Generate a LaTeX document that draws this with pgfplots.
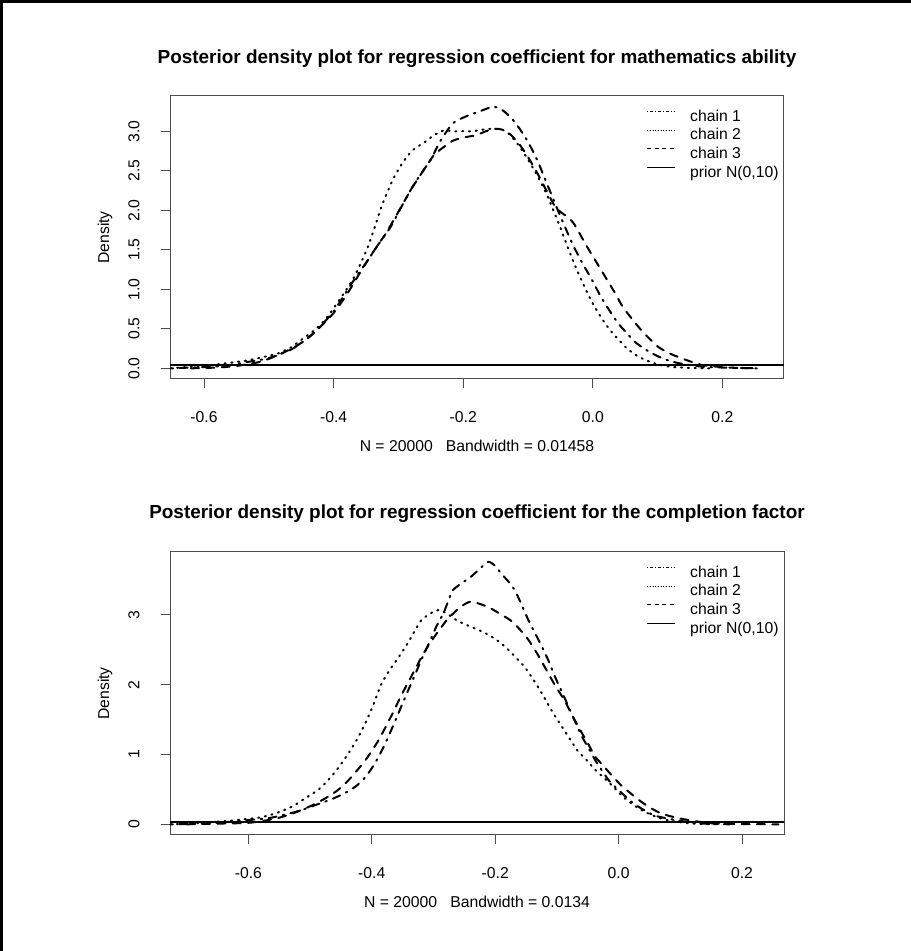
\documentclass[border=0pt]{standalone}
\usepackage{fontspec}
\setmainfont{Liberation Sans}
\usepackage{pgfplots}
\pgfplotsset{compat=1.18}

% R-like lty patterns (lwd 2 for curves, lwd 1 in the legend)
\tikzset{
  chainA/.style={dash pattern=on 1.2pt off 4.8pt on 6pt off 4.8pt},
  chainB/.style={dash pattern=on 0.9pt off 4.2pt},
  chainC/.style={dash pattern=on 6pt off 5.5pt},
  legA/.style={line cap=butt, dash pattern=on 0.6pt off 1.5pt on 2.3pt off 1.5pt},
  legB/.style={line cap=butt, dash pattern=on 0.5pt off 1.5pt},
  legC/.style={line cap=butt, dash pattern=on 3pt off 2.6pt},
  legD/.style={line cap=butt, solid},
}
\newcommand{\rfont}{\fontsize{11.8pt}{14pt}\selectfont}
\newcommand{\mainfont}{\fontsize{14.2pt}{17pt}\selectfont\bfseries}
\pgfplotsset{
  rplot/.style={
    scale only axis, width=460.5pt, height=212.5pt, anchor=south west,
    axis line style={black!70, line width=0.75pt},
    tick style={black!70, line width=0.75pt},
    tick align=outside, major tick length=6.75pt,
    xtick pos=left, ytick pos=left,
    xtick={-0.6,-0.4,-0.2,0,0.2}, xticklabels={-0.6,-0.4,-0.2,0.0,0.2},
    xticklabel style={anchor=center, yshift=-21.75pt},
    yticklabel style={xshift=-20.25pt, rotate=90, anchor=center},
    tick label style={font=\rfont},
    every axis plot/.append style={black, line width=1.5pt, line join=round, line cap=round},
    legend cell align=left,
    legend image code/.code={\draw[black, #1, line width=0.75pt] (0pt,4pt) -- (21.2pt,4pt);},
    legend style={draw=none, fill=none, inner sep=0pt, outer sep=0pt,
      row sep=2.3pt, column sep=10.7pt,
      nodes={inner sep=0pt, text height=9.1pt, text depth=2.6pt, font=\rfont},
      at={(axis description cs:0.7764,0.953)}, anchor=north west},
  },
}

\begin{document}
\rfont
\begin{tikzpicture}[x=0.75pt,y=0.75pt]
\path[use as bounding box] (0,0) rectangle (911,951);
\draw[line width=2.25pt] (1.5,0) -- (1.5,949.5) -- (911,949.5);

% ---------- top panel: mathematics ability ----------
\begin{axis}[rplot, at={(127.5pt,429pt)},
  xmin=-0.6525, xmax=0.295, ymin=-0.135, ymax=3.45,
  ytick={0,0.5,1,1.5,2,2.5,3}, yticklabels={0.0,0.5,1.0,1.5,2.0,2.5,3.0}]
\addplot[chainA, smooth, tension=0.4, forget plot] coordinates {
(-0.650,0.00) (-0.620,0.01) (-0.588,0.02) (-0.560,0.04) (-0.533,0.08) (-0.505,0.12)
(-0.485,0.17) (-0.465,0.24) (-0.450,0.32) (-0.430,0.45) (-0.416,0.57) (-0.400,0.72)
(-0.388,0.87) (-0.370,1.10) (-0.347,1.37) (-0.330,1.58) (-0.312,1.79) (-0.295,2.05)
(-0.278,2.30) (-0.262,2.50) (-0.250,2.64) (-0.235,2.88) (-0.216,3.10) (-0.195,3.19)
(-0.175,3.25) (-0.154,3.31) (-0.140,3.27) (-0.125,3.16) (-0.112,3.02) (-0.099,2.85)
(-0.085,2.62) (-0.071,2.34) (-0.057,2.06) (-0.043,1.79) (-0.030,1.55) (-0.016,1.33)
(0.000,1.10) (0.012,0.91) (0.025,0.74) (0.039,0.57) (0.053,0.44) (0.067,0.32)
(0.085,0.22) (0.101,0.15) (0.120,0.09) (0.136,0.06) (0.155,0.035) (0.170,0.02)
(0.200,0.01) (0.253,0.00)};
\addplot[chainB, smooth, tension=0.4, forget plot] coordinates {
(-0.652,0.00) (-0.620,0.02) (-0.590,0.04) (-0.560,0.07) (-0.533,0.10) (-0.510,0.14)
(-0.485,0.19) (-0.465,0.27) (-0.450,0.36) (-0.430,0.48) (-0.416,0.59) (-0.405,0.70)
(-0.395,0.82) (-0.380,1.00) (-0.368,1.16) (-0.357,1.35) (-0.347,1.54) (-0.336,1.80)
(-0.326,2.05) (-0.316,2.25) (-0.306,2.43) (-0.292,2.62) (-0.278,2.76) (-0.260,2.86)
(-0.245,2.95) (-0.230,3.01) (-0.215,3.00) (-0.200,3.00) (-0.185,3.00) (-0.170,3.02)
(-0.155,3.03) (-0.140,3.02) (-0.130,2.97) (-0.119,2.87) (-0.106,2.72) (-0.092,2.53)
(-0.080,2.35) (-0.071,2.20) (-0.060,1.98) (-0.050,1.78) (-0.040,1.56) (-0.030,1.35)
(-0.020,1.16) (-0.010,0.98) (0.000,0.82) (0.013,0.64) (0.026,0.49) (0.040,0.36)
(0.053,0.25) (0.066,0.17) (0.080,0.11) (0.100,0.05) (0.120,0.02) (0.150,0.005)
(0.180,0.00)};
\addplot[chainC, smooth, tension=0.4, forget plot] coordinates {
(-0.620,0.00) (-0.580,0.01) (-0.550,0.03) (-0.520,0.07) (-0.500,0.12) (-0.480,0.19)
(-0.460,0.27) (-0.440,0.38) (-0.420,0.53) (-0.400,0.70) (-0.380,0.93) (-0.360,1.20)
(-0.340,1.46) (-0.320,1.70) (-0.300,1.98) (-0.280,2.27) (-0.260,2.52) (-0.245,2.70)
(-0.230,2.80) (-0.216,2.88) (-0.200,2.92) (-0.180,2.95) (-0.165,3.00) (-0.150,3.03)
(-0.140,3.02) (-0.126,2.95) (-0.112,2.82) (-0.099,2.66) (-0.085,2.46) (-0.071,2.24)
(-0.060,2.07) (-0.050,1.98) (-0.040,1.92) (-0.030,1.84) (-0.020,1.70) (-0.009,1.54)
(0.005,1.35) (0.019,1.16) (0.033,0.97) (0.046,0.78) (0.060,0.63) (0.074,0.49)
(0.088,0.37) (0.101,0.27) (0.118,0.19) (0.136,0.13) (0.153,0.08) (0.170,0.04)
(0.200,0.015) (0.225,0.005) (0.253,0.00)};
\addplot[solid, forget plot] coordinates {(-0.70,0.0399) (0.35,0.0399)};
\addlegendimage{legA}\addlegendentry{chain 1}
\addlegendimage{legB}\addlegendentry{chain 2}
\addlegendimage{legC}\addlegendentry{chain 3}
\addlegendimage{legD}\addlegendentry{prior N(0,10)}
\end{axis}

% ---------- bottom panel: completion factor ----------
\begin{axis}[rplot, at={(127.5pt,87pt)},
  xmin=-0.727, xmax=0.268, ymin=-0.153, ymax=3.905,
  ytick={0,1,2,3}, yticklabels={0,1,2,3}]
\addplot[chainA, smooth, tension=0.4, forget plot] coordinates {
(-0.725,0.00) (-0.680,0.01) (-0.624,0.04) (-0.600,0.06) (-0.566,0.09) (-0.540,0.14)
(-0.515,0.20) (-0.490,0.28) (-0.465,0.36) (-0.443,0.45) (-0.425,0.55) (-0.410,0.68)
(-0.398,0.83) (-0.387,1.00) (-0.376,1.20) (-0.365,1.42) (-0.354,1.65) (-0.343,1.88)
(-0.332,2.10) (-0.320,2.35) (-0.308,2.58) (-0.295,2.84)
(-0.284,3.02) (-0.276,3.20) (-0.269,3.35) (-0.255,3.45) (-0.240,3.54) (-0.225,3.66)
(-0.211,3.76) (-0.200,3.70) (-0.190,3.59) (-0.179,3.48) (-0.168,3.35) (-0.157,3.14)
(-0.146,2.92) (-0.135,2.73) (-0.124,2.54) (-0.113,2.33) (-0.103,2.11) (-0.092,1.90)
(-0.081,1.68) (-0.070,1.46) (-0.059,1.25) (-0.048,1.08) (-0.038,0.92) (-0.027,0.77)
(-0.016,0.63) (-0.005,0.53) (0.006,0.44) (0.017,0.35) (0.027,0.28) (0.042,0.20)
(0.057,0.13) (0.075,0.09) (0.093,0.06) (0.115,0.03) (0.136,0.01) (0.180,0.00)};
\addplot[chainB, smooth, tension=0.4, forget plot] coordinates {
(-0.727,0.00) (-0.700,0.01) (-0.660,0.03) (-0.620,0.06) (-0.580,0.10) (-0.555,0.16)
(-0.530,0.25) (-0.510,0.36) (-0.486,0.50) (-0.470,0.64) (-0.455,0.80) (-0.439,1.00)
(-0.425,1.20) (-0.412,1.42) (-0.398,1.70) (-0.385,2.00) (-0.371,2.21) (-0.356,2.40)
(-0.342,2.59) (-0.331,2.76) (-0.320,2.92) (-0.305,3.02) (-0.291,3.07) (-0.277,3.01)
(-0.262,2.92) (-0.245,2.85) (-0.226,2.78) (-0.208,2.70) (-0.190,2.59) (-0.172,2.44)
(-0.153,2.26) (-0.138,2.07) (-0.124,1.87) (-0.110,1.65) (-0.095,1.44) (-0.081,1.25)
(-0.067,1.06) (-0.052,0.92) (-0.038,0.78) (-0.023,0.66) (-0.009,0.54) (0.002,0.44)
(0.013,0.35) (0.027,0.26) (0.042,0.18) (0.060,0.11) (0.078,0.06) (0.100,0.03)
(0.122,0.01) (0.160,0.00)};
\addplot[chainC, smooth, tension=0.4, forget plot] coordinates {
(-0.700,0.00) (-0.650,0.01) (-0.602,0.02) (-0.575,0.05) (-0.552,0.09) (-0.530,0.15)
(-0.510,0.22) (-0.490,0.30) (-0.470,0.40) (-0.455,0.49) (-0.440,0.61) (-0.425,0.76)
(-0.412,0.90) (-0.400,1.05) (-0.388,1.22) (-0.376,1.42) (-0.364,1.63) (-0.352,1.85)
(-0.340,2.05) (-0.328,2.25) (-0.316,2.45) (-0.303,2.63) (-0.291,2.78) (-0.277,2.94)
(-0.262,3.07) (-0.250,3.15) (-0.240,3.19) (-0.226,3.16) (-0.211,3.11) (-0.193,3.02)
(-0.175,2.92) (-0.160,2.79) (-0.146,2.64) (-0.131,2.43) (-0.117,2.21) (-0.103,1.99)
(-0.088,1.78) (-0.074,1.54) (-0.059,1.30) (-0.048,1.13) (-0.038,0.97) (-0.023,0.82)
(-0.009,0.68) (0.005,0.55) (0.020,0.44) (0.034,0.34) (0.049,0.25) (0.063,0.18)
(0.078,0.13) (0.096,0.09) (0.114,0.06) (0.136,0.03) (0.158,0.01) (0.200,0.003)
(0.259,0.00)};
\addplot[solid, forget plot] coordinates {(-0.80,0.0399) (0.30,0.0399)};
\addlegendimage{legA}\addlegendentry{chain 1}
\addlegendimage{legB}\addlegendentry{chain 2}
\addlegendimage{legC}\addlegendentry{chain 3}
\addlegendimage{legD}\addlegendentry{prior N(0,10)}
\end{axis}

% titles and axis labels, placed as R does
\node[font=\mainfont] at (477,892) {Posterior density plot for regression coefficient for mathematics ability};
\node at (477,505.5) {N = 20000\hspace{0.834em}Bandwidth = 0.01458};
\node[rotate=90] at (105,713.6) {Density};
\node[font=\mainfont] at (477,437) {Posterior density plot for regression coefficient for the completion factor};
\node at (477,49.5) {N = 20000\hspace{0.834em}Bandwidth = 0.0134};
\node[rotate=90] at (105,257.6) {Density};
\end{tikzpicture}
\end{document}
